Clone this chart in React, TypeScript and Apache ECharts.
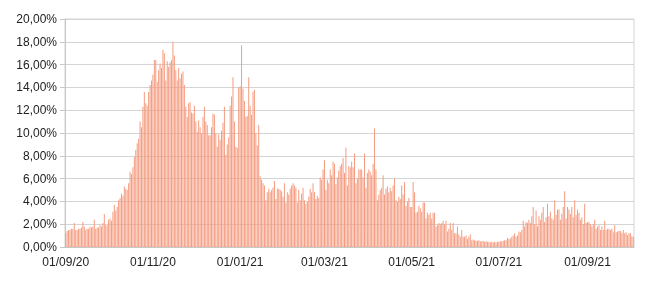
import React, { useEffect, useRef } from "react";
import * as echarts from "echarts";

const START = { y: 2020, m: 8, d: 1 }; // 1 Sept 2020 (month 0-based)

const sep20 = [1.2,1.4,1.5,1.5,1.6,1.6,2.1,1.5,1.5,1.6,1.6,1.7,2.2,1.8,1.5,1.6,1.6,1.8,1.7,1.8,2.4,1.6,1.7,1.7,1.9,1.8,2.1,2.9,1.9,1.9];
const oct20 = [2.4,2.5,2.3,3.1,3.7,3.2,3.5,4.1,4.3,4.7,4.5,5.3,5.1,5.0,5.6,6.6,6.4,7.0,7.9,8.5,9.1,9.5,11.0,10.5,12.3,13.6,12.6,12.4,13.6,14.2,14.6];
const nov20 = [15.1,16.4,16.4,14.5,15.5,16.1,15.7,17.3,17.0,14.6,16.3,15.8,16.2,16.4,18.0,16.8,15.5,14.6,15.7,14.8,15.2,15.4,14.2,12.3,11.4,12.6,12.7,11.8,11.7,12.4];
const dec20 = [11.0,10.1,11.1,10.5,10.0,11.4,12.3,11.0,10.7,9.8,9.8,10.5,11.7,11.6,10.0,8.8,9.9,9.4,10.2,10.9,12.3,8.1,9.0,9.6,12.4,13.2,14.9,11.0,8.8,8.7,14.0];
const jan21 = [14.1,17.7,13.9,12.8,11.4,11.5,14.9,12.4,11.6,13.6,13.8,10.0,8.9,10.7,6.2,5.9,5.6,5.4,4.1,4.8,5.1,4.8,5.0,5.2,5.8,4.2,5.1,5.1,5.0,4.9,4.4];
const feb21 = [5.6,3.9,4.8,4.6,5.1,5.4,5.6,5.4,5.2,3.9,5.0,4.1,4.7,5.2,4.1,3.8,4.0,4.4,5.1,4.8,5.6,4.8,4.2,4.5,4.3,6.1,5.9,6.8];
const mar21 = [7.6,5.0,5.9,5.6,6.8,6.3,7.5,7.3,5.5,6.1,6.7,7.1,7.3,7.8,6.5,8.7,5.4,7.1,7.0,7.5,7.0,8.2,5.6,6.0,6.8,6.8,6.8,6.1,8.2,5.2,6.5];
const apr21 = [6.8,6.6,6.3,7.3,10.4,6.8,4.1,4.6,5.0,5.2,6.3,4.6,5.1,5.3,4.8,5.2,4.9,5.4,6.0,4.1,4.0,4.4,4.2,5.4,4.6,5.7,3.6,4.0,4.3,3.5];
const may21 = [3.5,5.7,4.8,3.0,3.1,3.6,3.4,3.1,3.9,3.9,2.5,3.0,2.8,3.0,2.5,3.0,3.0,1.8,1.9,2.1,2.0,2.1,2.3,2.0,2.3,1.35,1.6,2.1,1.5,2.1,1.2];
const jun21 = [1.2,1.8,1.1,0.9,1.5,0.9,0.9,1.0,0.7,0.9,1.1,0.6,0.65,0.6,0.55,0.55,0.6,0.5,0.5,0.55,0.45,0.5,0.45,0.45,0.4,0.45,0.4,0.45,0.4,0.45];
const jul21 = [0.45,0.5,0.5,0.55,0.6,0.6,0.8,0.7,0.75,0.9,1.0,1.2,0.9,1.0,1.35,1.3,1.5,2.3,1.8,2.2,2.1,2.4,2.1,2.7,3.5,2.0,3.2,1.8,2.7,2.4,3.0];
const aug21 = [3.5,2.2,2.6,3.8,2.7,3.1,2.5,2.4,4.1,2.8,3.3,3.3,2.4,2.9,3.5,4.9,2.5,3.5,3.3,2.9,3.5,2.6,4.1,2.8,3.3,3.0,2.4,2.6,2.0,3.8,2.1];
const sep21 = [2.2,2.2,2.0,1.8,2.0,2.4,1.6,1.8,1.9,1.5,1.8,1.5,2.3,1.5,1.6,1.6,1.5,1.6,1.3,1.9,1.3,1.35,1.4,1.4,1.2,1.5,1.2,1.3,1.05,1.2];
const oct21 = [1.2,0.95,0.9];

const values: number[] = [
  ...sep20, ...oct20, ...nov20, ...dec20, ...jan21, ...feb21, ...mar21,
  ...apr21, ...may21, ...jun21, ...jul21, ...aug21, ...sep21, ...oct21,
];

const pad = (n: number) => (n < 10 ? "0" + n : "" + n);
const dates: string[] = values.map((_, i) => {
  const dt = new Date(Date.UTC(START.y, START.m, START.d + i));
  return `${pad(dt.getUTCDate())}/${pad(dt.getUTCMonth() + 1)}/${String(dt.getUTCFullYear()).slice(2)}`;
});

const tickLabels = ["01/09/20", "01/11/20", "01/01/21", "01/03/21", "01/05/21", "01/07/21", "01/09/21"];
const showLabel = (i: number) => tickLabels.includes(dates[i]);

export default function App() {
  const ref = useRef<HTMLDivElement>(null);
  useEffect(() => {
    if (!ref.current) return;
    const chart = echarts.init(ref.current, undefined, { renderer: "svg" });
    chart.setOption({
      animation: false,
      grid: {
        left: 65,
        right: 16,
        top: 19,
        bottom: 37,
        show: true,
        borderColor: "#d4d4d4",
        borderWidth: 1,
      },
      xAxis: {
        type: "category",
        data: dates,
        boundaryGap: true,
        axisLine: { lineStyle: { color: "#c8c8c8" } },
        axisTick: {
          alignWithLabel: true,
          interval: (i: number) => showLabel(i),
          length: 4,
          lineStyle: { color: "#b0b0b0" },
        },
        axisLabel: {
          interval: (i: number) => showLabel(i),
          color: "#222",
          fontFamily: "Liberation Sans, Arial, sans-serif",
          fontSize: 12,
          margin: 9,
        },
        splitLine: { show: false },
      },
      yAxis: {
        type: "value",
        min: 0,
        max: 20,
        interval: 2,
        axisLine: { show: true, lineStyle: { color: "#c8c8c8" } },
        axisTick: { show: true, length: 5, lineStyle: { color: "#c8c8c8" } },
        axisLabel: {
          formatter: (v: number) => v.toFixed(2).replace(".", ",") + "%",
          color: "#222",
          fontFamily: "Liberation Sans, Arial, sans-serif",
          fontSize: 12,
          margin: 8,
        },
        splitLine: { lineStyle: { color: "#d4d4d4", width: 1 } },
      },
      series: [
        {
          type: "bar",
          data: values,
          barCategoryGap: "35%",
          itemStyle: { color: "#f59c80" },
        },
      ],
    });
    return () => chart.dispose();
  }, []);
  return (
    <div
      ref={ref}
      style={{ position: "fixed", left: 0, top: 0, width: 650, height: 284 }}
    />
  );
}
